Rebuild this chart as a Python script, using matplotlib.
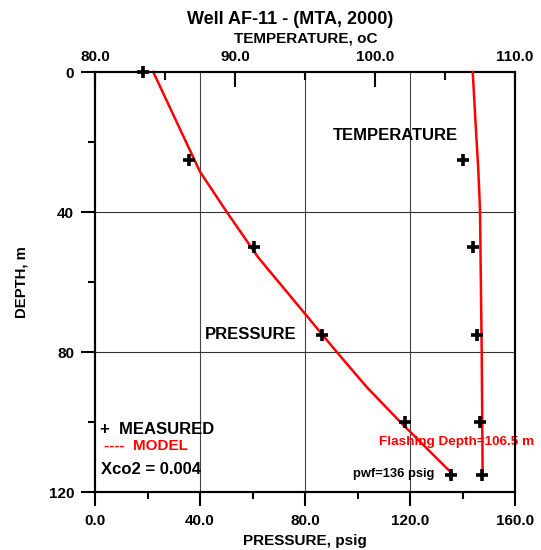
import numpy as np
import matplotlib
matplotlib.use('Agg')
from matplotlib import pyplot as plt

# measured data
depth_meas = [0, 25, 50, 75, 100, 115]
press_meas = [18.3, 35.8, 60.6, 86.5, 118.0, 135.6]
depth_temp_meas = [25, 50, 75, 100, 115]
temp_meas = [106.3, 107.02, 107.31, 107.5, 107.62]

# model curves
depth_press_model = [0, 28.5, 40, 53, 66, 80, 90, 100, 115]
press_model = [22.2, 40.0, 50.2, 62.2, 76.6, 92.1, 103.5, 116.3, 136.4]
depth_temp_model = [0, 10, 18.5, 28, 39.4, 79.4, 115]
temp_model = [106.98, 107.12, 107.24, 107.38, 107.5, 107.62, 107.69]

press_ticks = [0, 40, 80, 120, 160]
temp_ticks = [80, 90, 100, 110]
depth_ticks = [0, 40, 80, 120]

plt.rcParams['font.family'] = ['Liberation Sans', 'DejaVu Sans']
plt.rcParams['font.weight'] = 'bold'

W, H = 541, 550
fig = plt.figure(figsize=(W / 100, H / 100), dpi=100)
ax = fig.add_axes([95 / W, (H - 492) / H, 420 / W, 420 / H])


def fx(px):
    return px / W


def fy(py):
    return 1 - py / H


ax.set_xlim(0, 160)
ax.set_ylim(120, 0)
ax.set_xticks(press_ticks)
ax.set_xticklabels(['%.1f' % v for v in press_ticks])
ax.set_xticks([20, 60, 100, 140], minor=True)
ax.set_yticks(depth_ticks)
ax.set_yticklabels([str(v) for v in depth_ticks])
ax.set_yticks([20, 60, 100], minor=True)
ax.tick_params(axis='x', which='major', direction='out', length=10, width=1.5,
               labelsize=11, pad=6)
ax.tick_params(axis='x', which='minor', direction='out', length=5, width=1.5)
ax.tick_params(axis='y', which='major', direction='out', length=10, width=1.5,
               labelsize=11, pad=5)
ax.tick_params(axis='y', which='minor', direction='out', length=5, width=1.5)
for t in ax.get_xticklabels() + ax.get_yticklabels():
    t.set_fontweight('bold')

for s in ax.spines.values():
    s.set_linewidth(1.5)

# grid lines
for v in [40, 80, 120]:
    ax.axvline(v, color='#444444', lw=0.8, zorder=1)
for d in [40, 80]:
    ax.axhline(d, color='#333333', lw=0.8, zorder=1)

ax2 = ax.twiny()
ax2.set_xlim(80, 110)
ax2.set_xticks(temp_ticks)
ax2.set_xticklabels(['%.1f' % v for v in temp_ticks])
ax2.set_xticks([85, 95, 105], minor=True)
ax2.tick_params(axis='x', which='major', direction='in', length=11, width=1.5,
                labelsize=11, pad=6)
ax2.tick_params(axis='x', which='minor', direction='in', length=6, width=1.5)
for t in ax2.get_xticklabels():
    t.set_fontweight('bold')
for s in ax2.spines.values():
    s.set_linewidth(1.5)

# pressure
ax.plot(press_model, depth_press_model, color='red', lw=1.8, zorder=3, clip_on=False)
ax.plot(press_meas, depth_meas, ls='none', marker='+', ms=9, mew=2.6, color='black',
        zorder=4, clip_on=False)
# temperature
ax2.plot(temp_model, depth_temp_model, color='red', lw=1.8, zorder=3, clip_on=False)
ax2.plot(temp_meas, depth_temp_meas, ls='none', marker='+', ms=9, mew=2.6, color='black',
         zorder=4, clip_on=False)

# annotations
ax.text(90.7, 18, 'TEMPERATURE', fontsize=12, fontweight='bold', ha='left', va='center')
ax.text(76.8, 75, 'PRESSURE', fontsize=12, fontweight='bold', ha='right', va='center')
ax.text(108.3, 105.6, 'Flashing Depth=106.5 m', fontsize=9.7, fontweight='bold',
        color='red', ha='left', va='center', clip_on=False, zorder=5)
ax.text(98.2, 114.9, 'pwf=136 psig', fontsize=9.3, fontweight='bold', ha='left', va='center')
ax.text(2.0, 102.0, '+  MEASURED', fontsize=12, fontweight='bold', ha='left', va='center')
ax.text(3.4, 107.0, '----  MODEL', fontsize=11, fontweight='bold', color='red',
        ha='left', va='center')
ax.text(2.2, 113.5, 'Xco2 = 0.004', fontsize=12, fontweight='bold', ha='left', va='center')

# titles and axis labels
fig.text(fx(290), fy(20), 'Well AF-11 - (MTA, 2000)', fontsize=13, fontweight='bold',
         ha='center', va='center')
fig.text(fx(306), fy(38.5), 'TEMPERATURE, oC', fontsize=11, fontweight='bold',
         ha='center', va='center')
fig.text(fx(305), fy(541), 'PRESSURE, psig', fontsize=11, fontweight='bold',
         ha='center', va='center')
fig.text(fx(22), fy(282), 'DEPTH, m', fontsize=10.7, fontweight='bold', rotation=90,
         ha='center', va='center')

fig.savefig('out.png', dpi=100)
plt.close(fig)
